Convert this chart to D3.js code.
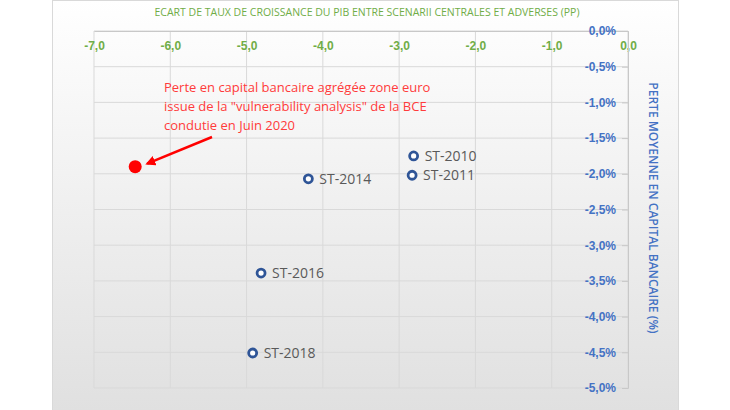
<!DOCTYPE html>
<html>
<head>
<meta charset="utf-8">
<script src="https://cdn.jsdelivr.net/npm/d3@7"></script>
<style>
  body { margin: 0; background: #fff; }
  svg { font-family: "Open Sans", "Liberation Sans", sans-serif; }
</style>
</head>
<body>
<div id="chart"></div>
<script>
// Stress test scenarios: GDP growth gap (pp) vs average bank capital loss (%)
const stNames = ['ST-2010', 'ST-2011', 'ST-2014', 'ST-2016', 'ST-2018'];
const stGap = [-2.81, -2.83, -4.19, -4.81, -4.92];
const stLoss = [-1.75, -2.02, -2.07, -3.39, -4.51];

// ECB vulnerability analysis June 2020
const vaGap = [-6.46];
const vaLoss = [-1.90];

const xTicks = [-7, -6, -5, -4, -3, -2, -1, 0];
const yTicks = [0, -0.5, -1, -1.5, -2, -2.5, -3, -3.5, -4, -4.5, -5];

const width = 730;
const height = 410;
const plot = { left: 94, right: 628, top: 31, bottom: 388 };

const svg = d3.select('#chart').append('svg')
    .attr('width', width)
    .attr('height', height);

const defs = svg.append('defs');
const grad = defs.append('linearGradient')
    .attr('id', 'bg')
    .attr('x1', 0).attr('y1', 0).attr('x2', 0).attr('y2', 1);
grad.append('stop').attr('offset', '0%').attr('stop-color', '#ffffff');
grad.append('stop').attr('offset', '100%').attr('stop-color', '#e0e0e0');

// chart container
svg.append('rect')
    .attr('x', 52.5).attr('y', 0.5)
    .attr('width', 626).attr('height', 410)
    .attr('fill', 'url(#bg)')
    .attr('stroke', '#d9d9d9');

const x = d3.scaleLinear().domain([-7, 0]).range([plot.left, plot.right]);
const y = d3.scaleLinear().domain([-5, 0]).range([plot.bottom, plot.top]);

// gridlines
svg.append('g')
    .selectAll('line')
    .data(xTicks)
    .enter().append('line')
    .attr('x1', d => x(d)).attr('x2', d => x(d))
    .attr('y1', plot.top).attr('y2', plot.bottom)
    .attr('stroke', '#d9d9d9');

svg.append('g')
    .selectAll('line')
    .data(yTicks)
    .enter().append('line')
    .attr('x1', plot.left).attr('x2', plot.right)
    .attr('y1', d => y(d)).attr('y2', d => y(d))
    .attr('stroke', '#d9d9d9');

// x axis at the top (y = 0), labels below the line
const fmt = d => d3.format('.1f')(d).replace('.', ',').replace('−', '-');
const xAxis = svg.append('g')
    .attr('transform', 'translate(0,' + y(0) + ')')
    .call(d3.axisBottom(x).tickValues(xTicks).tickSize(0).tickPadding(10).tickFormat(fmt));
xAxis.select('.domain').attr('stroke', '#c8c8c8');
xAxis.selectAll('text')
    .attr('fill', '#70ad47')
    .style('font-size', '12px')
    .style('font-weight', 'bold');

// y axis on the right (x = 0), labels on the left
const yAxis = svg.append('g')
    .attr('transform', 'translate(' + x(0) + ',0)')
    .call(d3.axisLeft(y).tickValues(yTicks).tickSize(6).tickPadding(6)
        .tickFormat(d => fmt(d) + '%'));
yAxis.select('.domain').attr('stroke', '#c8c8c8');
yAxis.selectAll('.tick line').attr('stroke', '#c8c8c8');
yAxis.selectAll('text')
    .attr('fill', '#4472c4')
    .style('font-size', '12px')
    .style('font-weight', 'bold');

// axis titles
svg.append('text')
    .attr('x', 367).attr('y', 16)
    .attr('text-anchor', 'middle')
    .attr('fill', '#70ad47')
    .style('font-size', '10.5px')
    .text('ECART DE TAUX DE CROISSANCE DU PIB ENTRE SCENARII CENTRALES ET ADVERSES (PP)');

svg.append('text')
    .attr('transform', 'translate(649,208) rotate(90)')
    .attr('text-anchor', 'middle')
    .attr('fill', '#4472c4')
    .style('font-size', '12px')
    .style('font-weight', '600')
    .text('PERTE MOYENNE EN CAPITAL BANCAIRE (%)');

// stress test points
const st = stNames.map((n, i) => ({ name: n, gap: stGap[i], loss: stLoss[i] }));

svg.append('g')
    .selectAll('circle')
    .data(st)
    .enter().append('circle')
    .attr('cx', d => x(d.gap))
    .attr('cy', d => y(d.loss))
    .attr('r', 4)
    .attr('fill', '#fff')
    .attr('stroke', '#2f5597')
    .attr('stroke-width', 2.8);

svg.append('g')
    .selectAll('text')
    .data(st)
    .enter().append('text')
    .attr('x', d => x(d.gap) + 11)
    .attr('y', d => y(d.loss) + 5)
    .attr('fill', '#595959')
    .style('font-size', '14px')
    .text(d => d.name);

// vulnerability analysis point
svg.append('g')
    .selectAll('circle')
    .data(vaGap.map((g, i) => ({ gap: g, loss: vaLoss[i] })))
    .enter().append('circle')
    .attr('cx', d => x(d.gap))
    .attr('cy', d => y(d.loss))
    .attr('r', 6.5)
    .attr('fill', '#ff0000');

// annotation + arrow
defs.append('marker')
    .attr('id', 'arrow')
    .attr('viewBox', '0 0 10 10')
    .attr('refX', 8).attr('refY', 5)
    .attr('markerWidth', 4).attr('markerHeight', 4)
    .attr('orient', 'auto')
    .append('path')
    .attr('d', 'M0,0 L10,5 L0,10 z')
    .attr('fill', '#ff0000');

svg.append('line')
    .attr('x1', 212).attr('y1', 137)
    .attr('x2', x(vaGap[0]) + 12).attr('y2', y(vaLoss[0]) - 3)
    .attr('stroke', '#ff0000')
    .attr('stroke-width', 2.5)
    .attr('marker-end', 'url(#arrow)');

const note = svg.append('text')
    .attr('fill', '#ff3b3b')
    .style('font-size', '13px');
['Perte en capital bancaire agrégée zone euro',
 'issue de la "vulnerability analysis" de la BCE',
 'condutie en Juin 2020'].forEach((line, i) => {
    note.append('tspan').attr('x', 164).attr('y', 92 + i * 19).text(line);
});
</script>
</body>
</html>
